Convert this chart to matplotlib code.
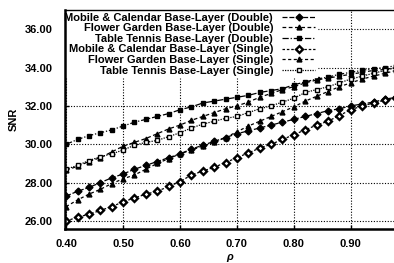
import matplotlib.pyplot as plt

# rho values (markers roughly every 0.02)
RHO = [0.40, 0.42, 0.44, 0.46, 0.48, 0.50, 0.52, 0.54, 0.56, 0.58,
       0.60, 0.62, 0.64, 0.66, 0.68, 0.70, 0.72, 0.74, 0.76, 0.78,
       0.80, 0.82, 0.84, 0.86, 0.88, 0.90, 0.92, 0.94, 0.96, 0.98]

mobile_double = [27.3, 27.55, 27.75, 28.0, 28.25, 28.45, 28.7, 28.9, 29.1, 29.3,
                 29.5, 29.75, 29.95, 30.15, 30.35, 30.55, 30.7, 30.85, 31.0, 31.15,
                 31.3, 31.45, 31.6, 31.75, 31.85, 32.0, 32.1, 32.2, 32.35, 32.45]
flower_double = [28.65, 28.85, 29.1, 29.3, 29.6, 29.9, 30.1, 30.3, 30.55, 30.8,
                 31.0, 31.25, 31.45, 31.65, 31.85, 32.0, 32.2, 32.45, 32.65, 32.85,
                 33.0, 33.2, 33.35, 33.45, 33.55, 33.65, 33.75, 33.85, 33.9, 34.0]
tennis_double = [30.0, 30.25, 30.45, 30.6, 30.75, 30.95, 31.15, 31.3, 31.45, 31.6,
                 31.8, 31.95, 32.15, 32.25, 32.35, 32.45, 32.55, 32.7, 32.8, 32.9,
                 33.1, 33.25, 33.4, 33.5, 33.65, 33.75, 33.85, 33.95, 34.0, 34.1]
mobile_single = [26.0, 26.2, 26.35, 26.55, 26.75, 27.0, 27.2, 27.4, 27.55, 27.8,
                 28.05, 28.4, 28.6, 28.8, 29.05, 29.3, 29.55, 29.8, 30.0, 30.25,
                 30.5, 30.75, 31.0, 31.2, 31.5, 31.8, 32.0, 32.15, 32.3, 32.4]
flower_single = [26.75, 27.1, 27.4, 27.65, 27.95, 28.2, 28.4, 28.7, 29.0, 29.25,
                 29.5, 29.7, 29.9, 30.1, 30.35, 30.65, 30.95, 31.2, 31.45, 31.7,
                 31.95, 32.25, 32.5, 32.75, 33.0, 33.2, 33.4, 33.55, 33.7, 33.85]
tennis_single = [28.7, 28.9, 29.15, 29.35, 29.5, 29.7, 29.95, 30.1, 30.2, 30.4,
                 30.6, 30.85, 31.05, 31.2, 31.35, 31.45, 31.65, 31.85, 32.0, 32.2,
                 32.4, 32.7, 32.85, 33.0, 33.2, 33.4, 33.55, 33.7, 33.85, 34.0]

X_TICKS = [0.40, 0.50, 0.60, 0.70, 0.80, 0.90]
Y_TICKS = [26.0, 28.0, 30.0, 32.0, 34.0, 36.0]

plt.rcParams["font.family"] = ["Liberation Sans", "DejaVu Sans"]

fig = plt.figure(figsize=(3.94, 2.63), dpi=100)
ax = fig.add_axes([0.165, 0.129, 0.835, 0.833])

series = [
    ("Mobile & Calendar Base-Layer (Double)", mobile_double, "D", "black", 1.0, (0, (4, 1.5))),
    ("Flower Garden Base-Layer (Double)", flower_double, "^", "black", 1.0, (0, (3, 2))),
    ("Table Tennis Base-Layer (Double)", tennis_double, "s", "black", 1.0, (0, (5, 1.5, 1, 1.5))),
    ("Mobile & Calendar Base-Layer (Single)", mobile_single, "D", "white", 1.7, (0, (2, 1.5))),
    ("Flower Garden Base-Layer (Single)", flower_single, "^", "black", 1.0, (0, (2.5, 2))),
    ("Table Tennis Base-Layer (Single)", tennis_single, "s", "white", 1.0, (0, (1, 1))),
]
for label, ys, mk, mfc, mew, ls in series:
    ax.plot(RHO, ys, linestyle=ls, color="black", linewidth=0.9,
            marker=mk, markersize=3.5, markerfacecolor=mfc,
            markeredgecolor="black", markeredgewidth=mew, label=label)

ax.set_xlim(0.398, 0.976)
ax.set_ylim(25.58, 37.0)
ax.set_xticks(X_TICKS)
ax.set_yticks(Y_TICKS)
ax.set_xticklabels([f"{v:.2f}" for v in X_TICKS], fontweight="bold", fontsize=8)
ax.set_yticklabels([f"{v:.2f}" for v in Y_TICKS], fontweight="bold", fontsize=8)
ax.tick_params(direction="in", length=3, width=1)
ax.tick_params(axis="y", pad=9)
ax.tick_params(axis="x", pad=7)
ax.grid(True, linestyle=(0, (1, 1.5)), color="black", linewidth=0.8)

for side in ["left", "bottom"]:
    ax.spines[side].set_linewidth(1.8)
ax.spines["left"].set_zorder(6)
ax.spines["right"].set_visible(False)
ax.spines["top"].set_linewidth(1.0)
ax.spines["top"].set_zorder(6)

ax.set_xlabel("ρ", fontsize=8, fontweight="bold", style="italic", labelpad=2)
ax.set_ylabel("SNR", fontsize=8, fontweight="bold", labelpad=4)

leg = ax.legend(loc="upper left", bbox_to_anchor=(-0.01, 1.0), markerfirst=False,
                frameon=True, fancybox=False, edgecolor="white", facecolor="white",
                framealpha=1.0, fontsize=8, labelspacing=0.05, borderpad=0.15,
                handlelength=3.0, handletextpad=0.8, borderaxespad=0.1)
for t in leg.get_texts():
    t.set_fontweight("bold")

fig.savefig("out.png", dpi=100)
